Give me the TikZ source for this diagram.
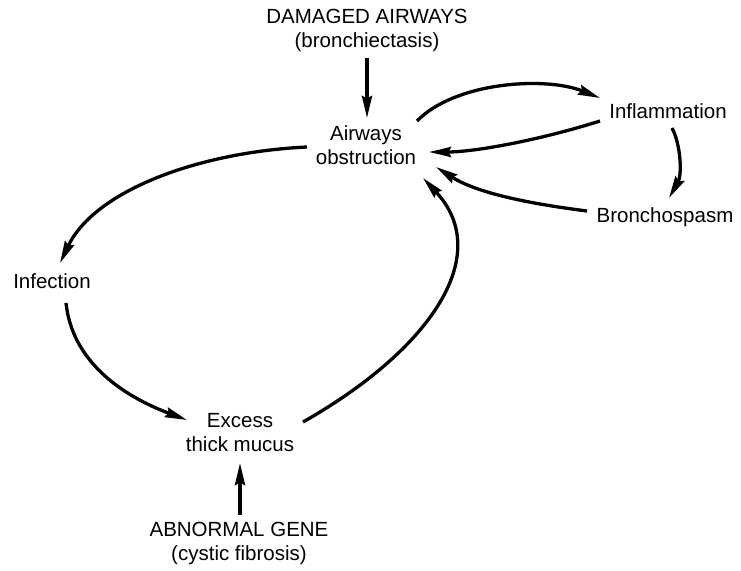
\documentclass[tikz,border=0pt]{standalone}
\usepackage{fontspec}
\setmainfont{Liberation Sans}
\usetikzlibrary{arrows.meta,calc}
\tikzset{
  lbl/.style={inner sep=0pt, align=center, font=\fontsize{20.5}{24}\selectfont, anchor=base},
  conn/.style={line width=3.3pt, -{Stealth[length=22pt,width=10pt,inset=2.5pt]}}
}
\begin{document}
\begin{tikzpicture}[x=1pt,y=-1pt]
\path[use as bounding box] (0,0) rectangle (741,570);
\node[lbl] (dam) at (367,47) {DAMAGED AIRWAYS\\(bronchiectasis)};
\node[lbl] (air) at (366,164) {Airways\\obstruction};
\node[lbl] (inf) at (668,118) {Inflammation};
\node[lbl] (bro) at (665,222) {Bronchospasm};
\node[lbl] (infe) at (52,288) {Infection};
\node[lbl] (exc) at (240,451) {Excess\\thick mucus};
\node[lbl] (gen) at (239,560) {ABNORMAL GENE\\(cystic fibrosis)};
% damaged airways -> obstruction
\draw[conn] ($(dam.base)+(0,11)$) -- ($(air.base)+(1,-46)$);
% obstruction -> inflammation
\draw[conn] ($(air.base)+(51,-43)$) .. controls (455,82) and (545,76) .. ($(inf.base)+(-68,-20)$);
% inflammation -> obstruction
\draw[conn] ($(inf.base)+(-68,3)$) .. controls (540,140) and (475,152) .. ($(air.base)+(63,-12)$);
% bronchospasm -> obstruction
\draw[conn] ($(bro.base)+(-78,-11)$) .. controls (540,205) and (480,195) .. ($(air.base)+(70,3)$);
% inflammation -> bronchospasm
\draw[conn] ($(inf.base)+(4,10)$) .. controls (681,145) and (682,175) .. ($(bro.base)+(4,-24)$);
% excess mucus -> obstruction
\draw[conn] ($(exc.base)+(63,-29)$) .. controls (430,350) and (495,255) .. ($(air.base)+(57,14)$);
% obstruction -> infection
\draw[conn] ($(air.base)+(-59,-17)$) .. controls (200,152) and (95,190) .. ($(infe.base)+(8,-25)$);
% infection -> excess mucus
\draw[conn] ($(infe.base)+(14,15)$) .. controls (72,360) and (120,395) .. ($(exc.base)+(-53,-31)$);
% abnormal gene -> excess mucus
\draw[conn] ($(gen.base)+(1,-45)$) -- ($(exc.base)+(0,12)$);
\end{tikzpicture}
\end{document}
